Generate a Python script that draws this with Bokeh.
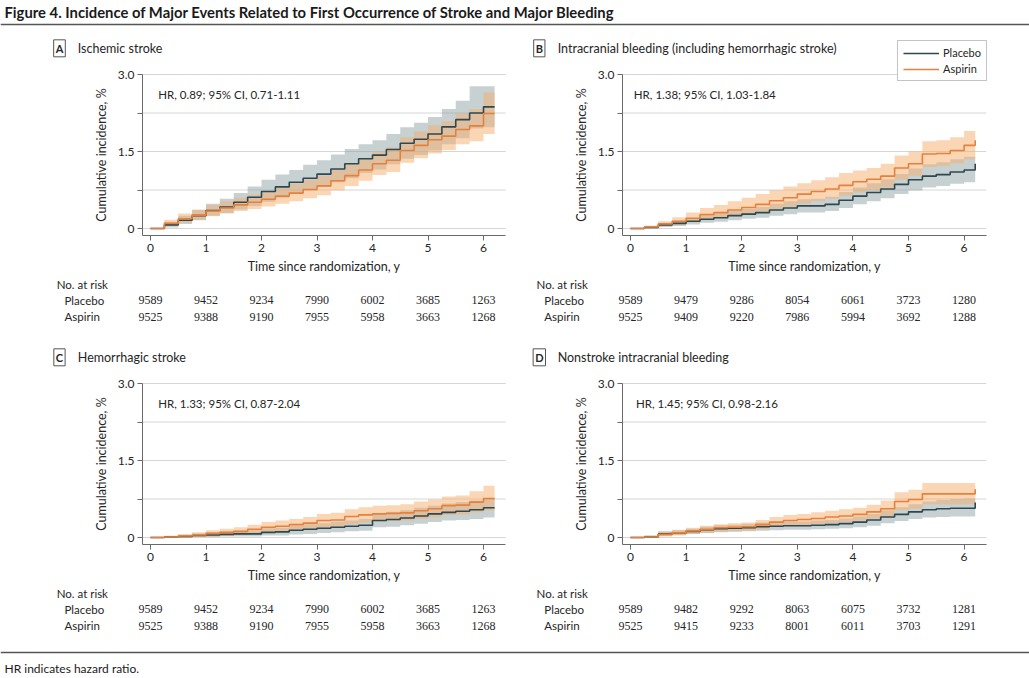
from bokeh.plotting import figure
from bokeh.models import (Range1d, FixedTicker, Label, LabelSet, ColumnDataSource,
                          Legend, LegendItem, Span)
from bokeh.layouts import column, row
from bokeh.embed import file_html
from bokeh.resources import INLINE

FONT = "Lato"
TEXT = "#262626"

# ---------------- data ----------------
T = [0, 0.25, 0.5, 0.75, 1, 1.25, 1.5, 1.75, 2, 2.25, 2.5, 2.75, 3, 3.25, 3.5,
     3.75, 4, 4.25, 4.5, 4.75, 5, 5.25, 5.5, 5.75, 6, 6.2]
years = [0, 1, 2, 3, 4, 5, 6]

# Panel A: Ischemic stroke
A_placebo = [0, 0.07, 0.16, 0.25, 0.35, 0.42, 0.51, 0.61, 0.72, 0.81, 0.90, 0.98, 1.06, 1.16, 1.26,
             1.36, 1.43, 1.54, 1.66, 1.74, 1.84, 1.98, 2.12, 2.25, 2.37, 2.37]
A_placebo_hi = [0, 0.13, 0.25, 0.36, 0.48, 0.58, 0.69, 0.82, 0.95, 1.05, 1.14, 1.24, 1.33, 1.44, 1.55,
                1.64, 1.72, 1.84, 1.97, 2.06, 2.17, 2.33, 2.49, 2.77, 2.77, 2.77]
A_placebo_lo = [0, 0.02, 0.09, 0.16, 0.25, 0.30, 0.37, 0.44, 0.52, 0.60, 0.68, 0.74, 0.81, 0.90, 0.98,
                1.08, 1.15, 1.25, 1.36, 1.43, 1.52, 1.64, 1.76, 1.95, 1.97, 1.97]
A_aspirin = [0, 0.10, 0.19, 0.26, 0.34, 0.40, 0.46, 0.51, 0.57, 0.63, 0.69, 0.76, 0.83, 0.93, 1.03,
             1.14, 1.26, 1.33, 1.52, 1.62, 1.73, 1.80, 1.93, 2.00, 2.24, 2.24]
A_aspirin_hi = [0, 0.17, 0.29, 0.37, 0.46, 0.53, 0.60, 0.66, 0.73, 0.80, 0.87, 0.95, 1.03, 1.14, 1.25,
                1.37, 1.50, 1.58, 1.78, 1.89, 2.01, 2.09, 2.24, 2.33, 2.65, 2.65]
A_aspirin_lo = [0, 0.05, 0.11, 0.17, 0.24, 0.29, 0.34, 0.38, 0.43, 0.48, 0.53, 0.59, 0.65, 0.74, 0.83,
                0.93, 1.04, 1.10, 1.28, 1.37, 1.46, 1.53, 1.64, 1.70, 1.84, 1.84]

# Panel B: Intracranial bleeding (including hemorrhagic stroke)
B_placebo = [0, 0.02, 0.07, 0.10, 0.14, 0.18, 0.21, 0.25, 0.28, 0.31, 0.36, 0.40, 0.44, 0.44, 0.47,
             0.55, 0.63, 0.70, 0.77, 0.86, 0.95, 1.02, 1.05, 1.10, 1.14, 1.26]
B_placebo_hi = [0, 0.05, 0.11, 0.15, 0.20, 0.25, 0.29, 0.34, 0.38, 0.42, 0.48, 0.53, 0.57, 0.58, 0.62,
                0.71, 0.80, 0.88, 0.96, 1.06, 1.17, 1.25, 1.29, 1.35, 1.40, 1.65]
B_placebo_lo = [0, 0.0, 0.03, 0.05, 0.08, 0.11, 0.13, 0.16, 0.19, 0.21, 0.25, 0.28, 0.31, 0.31, 0.34,
                0.40, 0.47, 0.53, 0.59, 0.67, 0.74, 0.80, 0.83, 0.87, 0.90, 0.95]
B_aspirin = [0, 0.03, 0.09, 0.14, 0.20, 0.27, 0.31, 0.36, 0.41, 0.47, 0.54, 0.60, 0.67, 0.72, 0.77,
             0.84, 0.91, 0.96, 1.02, 1.18, 1.26, 1.45, 1.46, 1.52, 1.62, 1.72]
B_aspirin_hi = [0, 0.06, 0.14, 0.22, 0.31, 0.40, 0.46, 0.53, 0.60, 0.67, 0.75, 0.82, 0.88, 0.94, 1.00,
                1.08, 1.13, 1.18, 1.26, 1.42, 1.50, 1.70, 1.72, 1.78, 1.90, 2.07]
B_aspirin_lo = [0, 0.01, 0.05, 0.08, 0.12, 0.16, 0.20, 0.24, 0.28, 0.33, 0.38, 0.43, 0.48, 0.53, 0.58,
                0.64, 0.70, 0.75, 0.80, 0.95, 1.03, 1.20, 1.22, 1.27, 1.35, 1.42]

# Panel C: Hemorrhagic stroke
C_placebo = [0, 0.01, 0.02, 0.04, 0.05, 0.06, 0.07, 0.07, 0.10, 0.11, 0.14, 0.16, 0.18, 0.20, 0.22,
             0.24, 0.33, 0.35, 0.38, 0.42, 0.46, 0.49, 0.51, 0.54, 0.58, 0.58]
C_placebo_hi = [0, 0.03, 0.05, 0.08, 0.10, 0.12, 0.13, 0.14, 0.18, 0.19, 0.23, 0.26, 0.28, 0.31, 0.33,
                0.36, 0.47, 0.50, 0.53, 0.58, 0.62, 0.66, 0.69, 0.72, 0.77, 0.77]
C_placebo_lo = [0, 0, 0, 0.01, 0.01, 0.02, 0.02, 0.02, 0.04, 0.04, 0.06, 0.07, 0.09, 0.10, 0.12,
                0.13, 0.20, 0.21, 0.24, 0.27, 0.30, 0.33, 0.34, 0.36, 0.39, 0.39]
C_aspirin = [0, 0.01, 0.03, 0.05, 0.08, 0.10, 0.12, 0.16, 0.20, 0.22, 0.25, 0.28, 0.33, 0.34, 0.41,
             0.44, 0.46, 0.47, 0.48, 0.52, 0.56, 0.62, 0.63, 0.69, 0.76, 0.76]
C_aspirin_hi = [0, 0.04, 0.07, 0.10, 0.14, 0.17, 0.20, 0.25, 0.30, 0.33, 0.36, 0.40, 0.46, 0.48, 0.55,
                0.59, 0.62, 0.63, 0.65, 0.70, 0.74, 0.80, 0.82, 0.90, 1.01, 1.01]
C_aspirin_lo = [0, 0, 0, 0.01, 0.02, 0.03, 0.05, 0.07, 0.09, 0.11, 0.13, 0.15, 0.19, 0.20, 0.26,
                0.29, 0.31, 0.32, 0.33, 0.36, 0.39, 0.44, 0.45, 0.49, 0.53, 0.53]

# Panel D: Nonstroke intracranial bleeding
D_placebo = [0, 0.01, 0.07, 0.09, 0.12, 0.15, 0.17, 0.18, 0.19, 0.21, 0.22, 0.23, 0.23, 0.24, 0.25,
             0.27, 0.30, 0.34, 0.40, 0.45, 0.50, 0.54, 0.56, 0.57, 0.57, 0.68]
D_placebo_hi = [0, 0.04, 0.12, 0.14, 0.17, 0.21, 0.24, 0.25, 0.27, 0.29, 0.30, 0.31, 0.31, 0.33, 0.34,
                0.37, 0.41, 0.46, 0.53, 0.59, 0.65, 0.70, 0.73, 0.75, 0.76, 0.76]
D_placebo_lo = [0, 0, 0.03, 0.05, 0.07, 0.09, 0.10, 0.11, 0.12, 0.13, 0.14, 0.15, 0.15, 0.16, 0.17,
                0.18, 0.20, 0.23, 0.28, 0.32, 0.36, 0.39, 0.40, 0.41, 0.41, 0.41]
D_aspirin = [0, 0.01, 0.06, 0.09, 0.13, 0.16, 0.19, 0.20, 0.21, 0.25, 0.30, 0.33, 0.35, 0.37, 0.40,
             0.42, 0.45, 0.50, 0.56, 0.70, 0.74, 0.85, 0.85, 0.85, 0.85, 0.94]
D_aspirin_hi = [0, 0.04, 0.11, 0.15, 0.19, 0.23, 0.26, 0.28, 0.29, 0.34, 0.40, 0.44, 0.46, 0.49, 0.52,
                0.55, 0.58, 0.64, 0.72, 0.88, 0.93, 1.06, 1.06, 1.06, 1.06, 1.21]
D_aspirin_lo = [0, 0, 0.02, 0.04, 0.07, 0.09, 0.11, 0.12, 0.13, 0.16, 0.20, 0.22, 0.24, 0.26, 0.28,
                0.30, 0.33, 0.37, 0.41, 0.53, 0.56, 0.65, 0.65, 0.65, 0.65, 0.70]

# No. at risk
A_risk_placebo = [9589, 9452, 9234, 7990, 6002, 3685, 1263]
A_risk_aspirin = [9525, 9388, 9190, 7955, 5958, 3663, 1268]
B_risk_placebo = [9589, 9479, 9286, 8054, 6061, 3723, 1280]
B_risk_aspirin = [9525, 9409, 9220, 7986, 5994, 3692, 1288]
C_risk_placebo = [9589, 9452, 9234, 7990, 6002, 3685, 1263]
C_risk_aspirin = [9525, 9388, 9190, 7955, 5958, 3663, 1268]
D_risk_placebo = [9589, 9482, 9292, 8063, 6075, 3732, 1281]
D_risk_aspirin = [9525, 9415, 9233, 8001, 6011, 3703, 1291]

panel_letters = ["A", "B", "C", "D"]
panel_titles = ["Ischemic stroke",
                "Intracranial bleeding (including hemorrhagic stroke)",
                "Hemorrhagic stroke",
                "Nonstroke intracranial bleeding"]
hr_texts = ["HR, 0.89; 95% CI, 0.71-1.11",
            "HR, 1.38; 95% CI, 1.03-1.84",
            "HR, 1.33; 95% CI, 0.87-2.04",
            "HR, 1.45; 95% CI, 0.98-2.16"]
series_names = ["Placebo", "Aspirin"]
y_ticks = [0, 0.75, 1.5, 2.25, 3.0]
y_tick_labels = {0: "0", 0.75: "", 1.5: "1.5", 2.25: "", 3.0: "3.0"}

fig_title = "Figure 4. Incidence of Major Events Related to First Occurrence of Stroke and Major Bleeding"
footnote = "HR indicates hazard ratio."

PLACEBO_LINE = "#2d4850"
PLACEBO_BAND = "#8fa3a5"
ASPIRIN_LINE = "#e5813c"
ASPIRIN_BAND = "#f5ad6c"

# panel geometry (pixels)
PANEL_H = 309
Y0_PX = 198          # pixel row of y = 0 inside a panel (from top)
Y_SCALE = 154 / 3.0  # pixels per percentage point
X_LO, X_HI = -0.144, 6.4   # extent of axes
Y_LO = -0.136


def make_panel(i, est, risk_p, risk_a, width, x0_px, x_scale, hr_x, legend=False):
    x_start = -x0_px / x_scale
    x_end = (width - x0_px) / x_scale
    y_end = Y0_PX / Y_SCALE
    y_start = y_end - PANEL_H / Y_SCALE
    p = figure(width=width, height=PANEL_H, output_backend="svg", toolbar_location=None,
               x_range=Range1d(x_start, x_end), y_range=Range1d(y_start, y_end),
               min_border=0)
    p.outline_line_color = None
    p.grid.visible = False

    # horizontal gridlines at tick levels, limited to the plot area
    gsrc = ColumnDataSource(dict(y=y_ticks, x0=[X_LO] * len(y_ticks), x1=[X_HI] * len(y_ticks)))
    p.segment(x0="x0", x1="x1", y0="y", y1="y", source=gsrc, line_color="#d6d6d6", line_width=1)

    src = ColumnDataSource(dict(t=T, p=est[0], plo=est[1], phi=est[2],
                                a=est[3], alo=est[4], ahi=est[5]))
    p.varea_step(x="t", y1="plo", y2="phi", step_mode="after", source=src,
                 fill_color=PLACEBO_BAND, fill_alpha=0.5)
    p.varea_step(x="t", y1="alo", y2="ahi", step_mode="after", source=src,
                 fill_color=ASPIRIN_BAND, fill_alpha=0.5)
    r_p = p.step(x="t", y="p", mode="after", source=src, line_color=PLACEBO_LINE, line_width=1.6)
    r_a = p.step(x="t", y="a", mode="after", source=src, line_color=ASPIRIN_LINE, line_width=1.6)

    # axes placed at the plot-area edges
    for ax in (p.xaxis[0], p.yaxis[0]):
        ax.axis_line_color = "#6a6a6a"
        ax.major_tick_line_color = "#6a6a6a"
        ax.minor_tick_line_color = None
        ax.major_tick_in = 0
        ax.major_tick_out = 5
        ax.major_label_text_font = FONT
        ax.major_label_text_font_size = "12px"
        ax.major_label_text_color = TEXT
        ax.axis_label_text_font = FONT
        ax.axis_label_text_font_size = "12.5px"
        ax.axis_label_text_font_style = "normal"
        ax.axis_label_text_color = TEXT
    p.xaxis.fixed_location = Y_LO
    p.xaxis.bounds = (X_LO, X_HI)
    p.xaxis.ticker = FixedTicker(ticks=years)
    p.xaxis.axis_label = "Time since randomization, y"
    p.xaxis.major_label_standoff = 4
    p.xaxis.axis_label_standoff = 3
    p.yaxis.fixed_location = X_LO
    p.yaxis.bounds = (Y_LO, 3.0)
    p.yaxis.ticker = FixedTicker(ticks=y_ticks)
    p.yaxis.major_label_overrides = y_tick_labels
    p.yaxis.axis_label = "Cumulative incidence, %"
    p.yaxis.major_label_standoff = 3
    p.yaxis.axis_label_standoff = 6

    # panel header
    p.add_layout(Label(x=-1.64, y=3.51, text=panel_letters[i], text_align="center",
                       text_baseline="middle", text_font=FONT, text_font_size="11px",
                       text_font_style="bold", text_color=TEXT, border_line_color="#555555",
                       background_fill_color="white", padding=2))
    p.add_layout(Label(x=-1.31, y=3.51, text=panel_titles[i], text_align="left",
                       text_baseline="middle", text_font=FONT, text_font_size="12.5px",
                       text_color=TEXT))
    p.add_layout(Label(x=hr_x, y=2.61, text=hr_texts[i], text_align="left",
                       text_baseline="middle", text_font=FONT, text_font_size="11.5px",
                       text_color=TEXT))

    # No. at risk table
    p.add_layout(Label(x=-1.69, y=-1.09, text="No. at risk", text_align="left",
                       text_baseline="middle", text_font=FONT, text_font_size="11.5px",
                       text_color=TEXT))
    for name, vals, yy in ((series_names[0], risk_p, -1.40), (series_names[1], risk_a, -1.72)):
        p.add_layout(Label(x=-1.55, y=yy, text=name, text_align="left", text_baseline="middle",
                           text_font=FONT, text_font_size="11.5px", text_color=TEXT))
        rs = ColumnDataSource(dict(x=years, y=[yy] * len(years), txt=[str(v) for v in vals]))
        p.add_layout(LabelSet(x="x", y="y", text="txt", source=rs, text_align="center",
                              text_baseline="middle", text_font=FONT, text_font_size="12px",
                              text_color=TEXT))

    if legend:
        lg = Legend(items=[LegendItem(label=series_names[0], renderers=[r_p]),
                           LegendItem(label=series_names[1], renderers=[r_a])],
                    location=(383, 258), orientation="vertical",
                    label_text_font=FONT, label_text_font_size="11px", label_text_color=TEXT,
                    glyph_width=36, glyph_height=12, label_height=12, label_standoff=4,
                    spacing=3, padding=5, margin=0, border_line_color="#8a8a8a",
                    background_fill_color="white", background_fill_alpha=1)
        p.add_layout(lg)
    return p


pA = make_panel(0, [A_placebo, A_placebo_lo, A_placebo_hi, A_aspirin, A_aspirin_lo, A_aspirin_hi],
                A_risk_placebo, A_risk_aspirin, 514, 150, 55.5, 0.14)
pB = make_panel(1, [B_placebo, B_placebo_lo, B_placebo_hi, B_aspirin, B_aspirin_lo, B_aspirin_hi],
                B_risk_placebo, B_risk_aspirin, 515, 116, 55.6, 0.06, legend=True)
pC = make_panel(2, [C_placebo, C_placebo_lo, C_placebo_hi, C_aspirin, C_aspirin_lo, C_aspirin_hi],
                C_risk_placebo, C_risk_aspirin, 514, 150, 55.5, 0.14)
pD = make_panel(3, [D_placebo, D_placebo_lo, D_placebo_hi, D_aspirin, D_aspirin_lo, D_aspirin_hi],
                D_risk_placebo, D_risk_aspirin, 515, 116, 55.6, 0.10)


def strip(height, text, text_y, rule_y, size, style):
    s = figure(width=1029, height=height, output_backend="svg", toolbar_location=None,
               x_range=Range1d(0, 1029), y_range=Range1d(height, 0),
               x_axis_type=None, y_axis_type=None, min_border=0)
    s.outline_line_color = None
    s.grid.visible = False
    s.add_layout(Span(location=rule_y, dimension="width", line_color="#555555", line_width=1.3))
    s.add_layout(Label(x=4, y=text_y, text=text, text_align="left", text_baseline="middle",
                       text_font=FONT, text_font_size=size, text_font_style=style,
                       text_color="#1a1a1a"))
    return s


top = strip(30, fig_title, 11, 24, "14.8px", "bold")
bottom = strip(30, footnote, 20, 4, "12px", "normal")

layout = column(top, row(pA, pB), row(pC, pD), bottom)
open("out.html", "w").write(file_html(layout, INLINE))
